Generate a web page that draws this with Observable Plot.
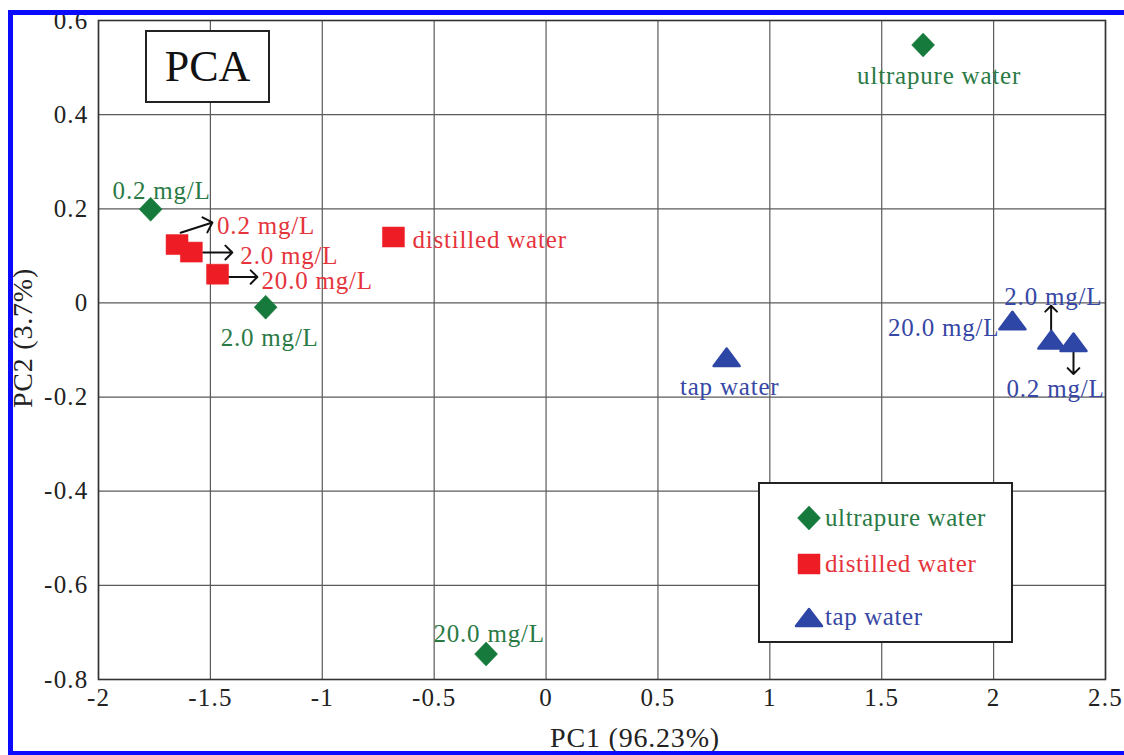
<!DOCTYPE html>
<html>
<head>
<meta charset="utf-8">
<script src="https://cdn.jsdelivr.net/npm/d3@7"></script>
<script src="https://cdn.jsdelivr.net/npm/@observablehq/plot@0.6"></script>
<style>
  html, body { margin: 0; padding: 0; background: #fff; }
  #wrap { position: relative; width: 1124px; height: 755px; overflow: hidden; }
  #chart { position: absolute; left: 0; top: 0; }
  #chart g[aria-label="text"] { letter-spacing: 0.8px; }
  #border { position: absolute; left: 8px; top: 10px; right: -10px; bottom: 0; border-top: 5px solid #0a0aff; border-left: 5px solid #0a0aff; border-bottom: 4px solid #0a0aff; box-sizing: border-box; pointer-events: none; z-index: 5; }
  #pcabox { position: absolute; left: 145px; top: 30px; width: 125px; height: 73px; box-sizing: border-box; border: 2px solid #222; background: #fff; font-size: 44px; line-height: 69px; text-align: center; color: #111; z-index: 3; }
  #legend { position: absolute; left: 758px; top: 482px; width: 255px; height: 161px; box-sizing: border-box; border: 2px solid #222; background: #fff; z-index: 3; }
  .lg { position: absolute; left: 36px; display: flex; align-items: center; font-size: 25px; letter-spacing: 0.6px; white-space: nowrap; }
  .lg svg { margin-right: 3px; }
</style>
</head>
<body>
<div id="wrap">
  <div id="chart"></div>
  <div id="pcabox">PCA</div>
  <div id="legend"></div>
  <div id="border"></div>
</div>
<script>
// ---------- data ----------
const seriesNames = ["ultrapure water", "distilled water", "tap water"];

const ultrapurePC1 = [-1.767, -1.253, 1.685, -0.268];
const ultrapurePC2 = [0.199, -0.009, 0.548, -0.746];
const ultrapureLabels = ["0.2 mg/L", "2.0 mg/L", "ultrapure water", "20.0 mg/L"];

const distilledPC1 = [-1.649, -1.585, -1.468, -0.682];
const distilledPC2 = [0.124, 0.108, 0.061, 0.140];
const distilledLabels = ["0.2 mg/L", "2.0 mg/L", "20.0 mg/L", "distilled water"];

const tapPC1 = [0.807, 2.084, 2.258, 2.357];
const tapPC2 = [-0.116, -0.038, -0.079, -0.084];
const tapLabels = ["tap water", "20.0 mg/L", "2.0 mg/L", "0.2 mg/L"];

// annotation arrows (PC1/PC2 coordinates)
const arrowX1 = [-1.633, -1.533, -1.417, 2.257, 2.357];
const arrowY1 = [0.149, 0.107, 0.055, -0.059, -0.098];
const arrowX2 = [-1.491, -1.402, -1.290, 2.257, 2.357];
const arrowY2 = [0.171, 0.107, 0.055, -0.006, -0.151];

const xTicks = [-2, -1.5, -1, -0.5, 0, 0.5, 1, 1.5, 2, 2.5];
const yTicks = [0.6, 0.4, 0.2, 0, -0.2, -0.4, -0.6, -0.8];
const xTitle = "PC1 (96.23%)";
const yTitle = "PC2 (3.7%)";

// ---------- font pick: first installed serif ----------
function hasFont(name) {
  const c = document.createElement("canvas").getContext("2d");
  const s = "mmmmmmmmmmlliWWQ0123";
  c.font = "40px monospace"; const a = c.measureText(s).width;
  c.font = `40px "${name}", monospace`; const b = c.measureText(s).width;
  c.font = "40px sans-serif"; const a2 = c.measureText(s).width;
  c.font = `40px "${name}", sans-serif`; const b2 = c.measureText(s).width;
  return a !== b || a2 !== b2;
}
const candidates = ["Liberation Serif", "Times New Roman", "Tinos", "Nimbus Roman", "FreeSerif", "Noto Serif", "DejaVu Serif"];
const serifFont = candidates.find(hasFont) || "serif";
const FONT = `"${serifFont}", serif`;
document.getElementById("wrap").style.fontFamily = FONT;

// ---------- styling ----------
const markerColor = ["#157a3b", "#ee1d25", "#2e46a6"];
const textColor = ["#2a7a45", "#e5343c", "#3647a5"];

const diamond = { draw(c) { c.moveTo(0, -12); c.lineTo(11.5, 0); c.lineTo(0, 12); c.lineTo(-11.5, 0); c.closePath(); } };
const square = { draw(c) { c.rect(-11, -10, 22, 20); } };
const triangle = { draw(c) { c.moveTo(0, -9); c.lineTo(13, 8.5); c.lineTo(-13, 8.5); c.closePath(); } };
const symbols = [diamond, square, triangle];

const series = [
  { pc1: ultrapurePC1, pc2: ultrapurePC2, labels: ultrapureLabels },
  { pc1: distilledPC1, pc2: distilledPC2, labels: distilledLabels },
  { pc1: tapPC1, pc2: tapPC2, labels: tapLabels }
].map((s, k) => s.pc1.map((x, i) => ({ x, y: s.pc2[i], label: s.labels[i], k })));

// label placement (screen offsets from the point)
const placement = [
  [{dx: 11, dy: -18, a: "middle"}, {dx: 4, dy: 31, a: "middle"}, {dx: 16, dy: 31, a: "middle"}, {dx: 3, dy: -20, a: "middle"}],
  [{dx: 40, dy: -19, a: "start"}, {dx: 49, dy: 4, a: "start"}, {dx: 44, dy: 7, a: "start"}, {dx: 19, dy: 3, a: "start"}],
  [{dx: 3, dy: 29, a: "middle"}, {dx: -13, dy: 7, a: "end"}, {dx: 2, dy: -43, a: "middle"}, {dx: -18, dy: 47, a: "middle"}]
];

const arrows = arrowX1.map((x1, i) => ({ x1, y1: arrowY1[i], x2: arrowX2[i], y2: arrowY2[i] }));

const marks = [
  Plot.ruleX(xTicks, { stroke: "#5a5a5a", strokeWidth: 1.2 }),
  Plot.ruleY(yTicks, { stroke: "#5a5a5a", strokeWidth: 1.2 }),
  Plot.frame({ stroke: "#333", strokeWidth: 1.6 })
];

series.forEach((pts, k) => {
  pts.forEach((p, i) => {
    const pl = placement[k][i];
    marks.push(Plot.text([p], {
      x: "x", y: "y", text: "label", dx: pl.dx, dy: pl.dy, textAnchor: pl.a,
      fill: textColor[k], fontSize: 25
    }));
  });
});

marks.push(Plot.arrow(arrows, { x1: "x1", y1: "y1", x2: "x2", y2: "y2", stroke: "#111", strokeWidth: 2, headLength: 13, headAngle: 90 }));

series.forEach((pts, k) => {
  marks.push(Plot.dot(pts, {
    x: "x", y: "y", symbol: symbols[k], fill: markerColor[k],
    stroke: markerColor[k], strokeWidth: k === 2 ? 2.5 : 0.5, strokeLinejoin: "round"
  }));
});

marks.push(Plot.text([yTitle], { text: d => d, frameAnchor: "left", textAnchor: "middle", lineAnchor: "middle", dx: -75, dy: -12, rotate: -90, fontSize: 28, fill: "#222" }));
marks.push(Plot.text([xTitle], { text: d => d, frameAnchor: "bottom", textAnchor: "middle", lineAnchor: "middle", dx: 33, dy: 59, fontSize: 28, fill: "#222" }));

const chart = Plot.plot({
  width: 1124,
  height: 755,
  marginLeft: 98,
  marginRight: 19,
  marginTop: 20,
  marginBottom: 76,
  style: { fontFamily: FONT, fontSize: "25px", color: "#222", background: "transparent", letterSpacing: "1.2px" },
  x: { domain: [-2, 2.5], ticks: xTicks, tickFormat: d => String(d), tickSize: 0, tickPadding: 9, label: null },
  y: { domain: [-0.8, 0.6], ticks: yTicks, tickFormat: d => String(d), tickSize: 0, tickPadding: 10, label: null },
  marks
});
document.getElementById("chart").appendChild(chart);

// ---------- legend (built from series) ----------
const legend = document.getElementById("legend");
const legendTops = [20, 66, 119];
const glyphPaths = [
  "M12,0 L23.5,12 L12,24 L0.5,12 Z",
  "M1,2 L23,2 L23,22 L1,22 Z",
  "M12,4 L25,21 L-1,21 Z"
];
seriesNames.forEach((name, k) => {
  const row = document.createElement("div");
  row.className = "lg";
  row.style.top = legendTops[k] + "px";
  row.style.color = textColor[k];
  row.innerHTML = `<svg width="26" height="24" viewBox="-1 0 26 24" style="overflow:visible"><path d="${glyphPaths[k]}" fill="${markerColor[k]}" stroke="${markerColor[k]}" stroke-width="${k === 2 ? 2.5 : 0.5}" stroke-linejoin="round"/></svg><span>${name}</span>`;
  legend.appendChild(row);
});
</script>
</body>
</html>
